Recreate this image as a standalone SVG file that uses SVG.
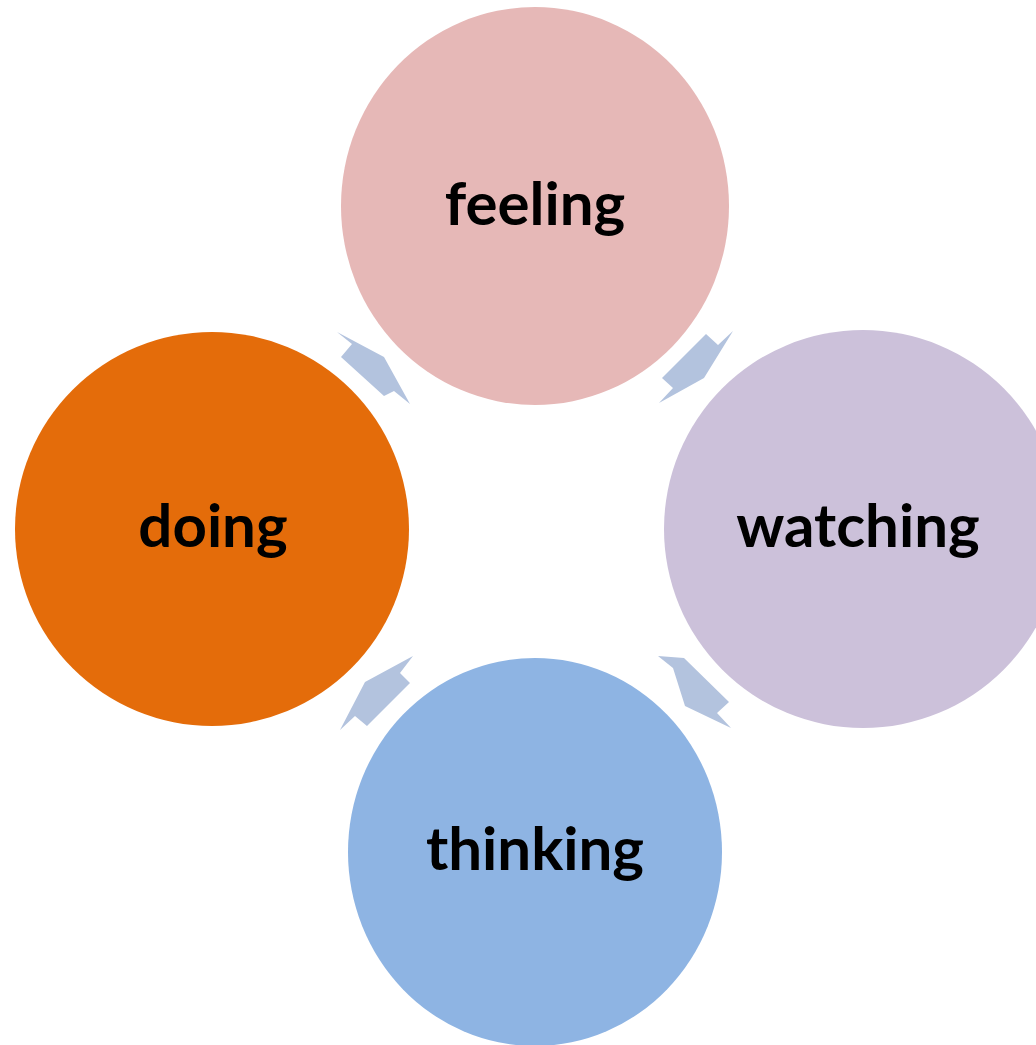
<svg xmlns="http://www.w3.org/2000/svg" width="1036" height="1045" viewBox="0 0 1036 1045">
<style>
.lbl{font-family:Lato,"Open Sans","Liberation Sans",sans-serif;font-weight:bold;font-size:60px;fill:#000;text-anchor:middle}
.arr{fill:#B3C3DE}
</style>
<rect width="1036" height="1045" fill="#fff"/>
<g id="connectors">
<polygon class="arr" points="337,332 384,357 410,404 394,391 384,396 341,357 352,344"/>
<polygon class="arr" points="659,403 704,378 733,331 718,345 706,334 662,378 673,388"/>
<polygon class="arr" points="658,656 684,658 729,702 717,713 731,728 685,706 673,668"/>
<polygon class="arr" points="413,656 400,673 410,683 367,726 355,716 340,730 365,682"/>
</g>
<g id="feeling"><ellipse cx="535" cy="206" rx="194" ry="199" fill="#E6B8B7"/><text class="lbl" x="535" y="225">feeling</text></g>
<g id="watching"><ellipse cx="863" cy="529" rx="199" ry="199" fill="#CCC1DA"/><text class="lbl" x="858" y="547">watching</text></g>
<g id="thinking"><ellipse cx="535" cy="852" rx="187" ry="194" fill="#8EB4E3"/><text class="lbl" x="535" y="870">thinking</text></g>
<g id="doing"><ellipse cx="212" cy="529" rx="197" ry="197" fill="#E46C0A"/><text class="lbl" x="213" y="547">doing</text></g>
</svg>
